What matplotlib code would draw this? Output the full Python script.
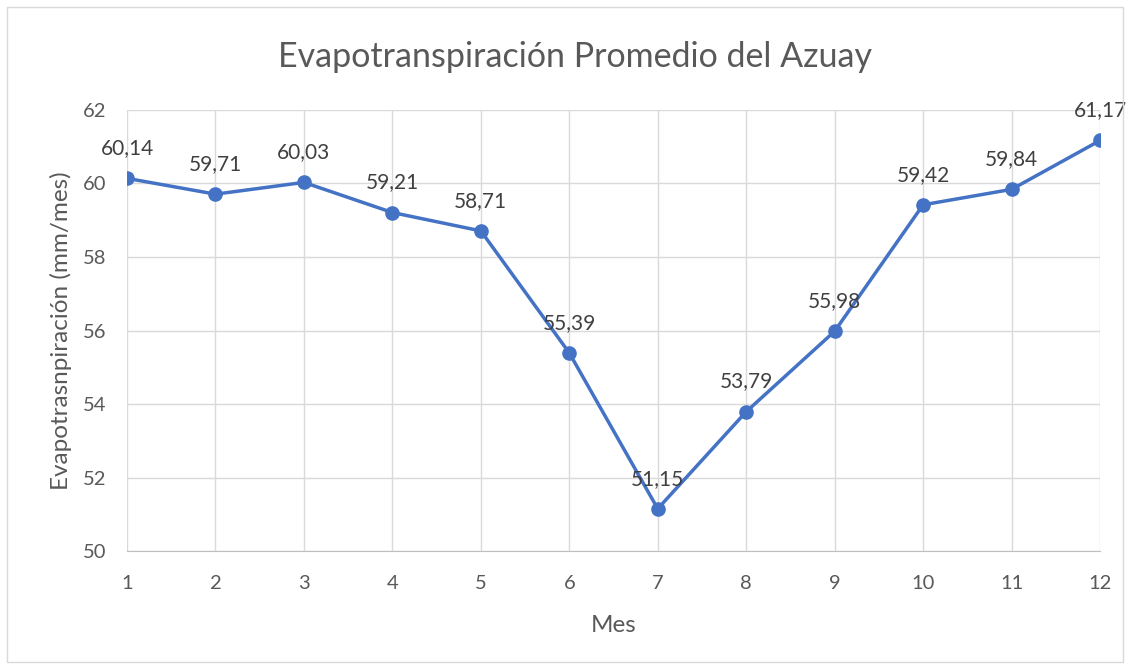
import matplotlib
matplotlib.use('Agg')
import matplotlib.pyplot as plt

meses = [1, 2, 3, 4, 5, 6, 7, 8, 9, 10, 11, 12]
evapo = [60.14, 59.71, 60.03, 59.21, 58.71, 55.39, 51.15, 53.79, 55.98, 59.42, 59.84, 61.17]
yticks = [50, 52, 54, 56, 58, 60, 62]

plt.rcParams['font.family'] = ['Lato', 'DejaVu Sans']
gris = '#595959'

fig = plt.figure(figsize=(11.31, 6.65), dpi=100)
ax = fig.add_axes([0.1123, 0.1714, 0.8603, 0.6632])

ax.plot(meses, evapo, color='#4472C4', linewidth=2.5, marker='o', markersize=9.5, zorder=3)
for x, y in zip(meses, evapo):
    ax.annotate(f'{y:.2f}'.replace('.', ','), (x, y), xytext=(0, 14.5), textcoords='offset points',
                ha='center', va='bottom', fontsize=15, color='#404040')

ax.set_xlim(1, 12)
ax.set_ylim(50, 62)
ax.set_xticks(meses)
ax.set_yticks(yticks)
ax.grid(True, color='#D9D9D9', linewidth=1)
ax.set_axisbelow(True)
for s in ['top', 'right', 'left']:
    ax.spines[s].set_visible(False)
ax.spines['bottom'].set_color('#BFBFBF')
ax.tick_params(axis='y', length=0, labelsize=14.5, labelcolor=gris, pad=15)
ax.tick_params(axis='x', length=0, labelsize=14.5, labelcolor=gris, pad=17)
ax.set_xlabel('Mes', fontsize=17.5, color=gris)
ax.xaxis.set_label_coords(0.5, -0.145)
ax.set_ylabel('Evapotrasnpiración (mm/mes)', fontsize=17.5, color=gris)
ax.yaxis.set_label_coords(-0.0565, 0.5)
fig.text(574.5 / 1131, 1 - 57 / 665, 'Evapotranspiración Promedio del Azuay', ha='center', va='center',
         fontsize=24.5, color=gris)

fig.patches.append(plt.Rectangle((7 / 1131, 3 / 665), 1116 / 1131, 655 / 665, transform=fig.transFigure,
                                 fill=False, edgecolor='#D9D9D9', linewidth=1))
fig.savefig('out.png', dpi=100)
